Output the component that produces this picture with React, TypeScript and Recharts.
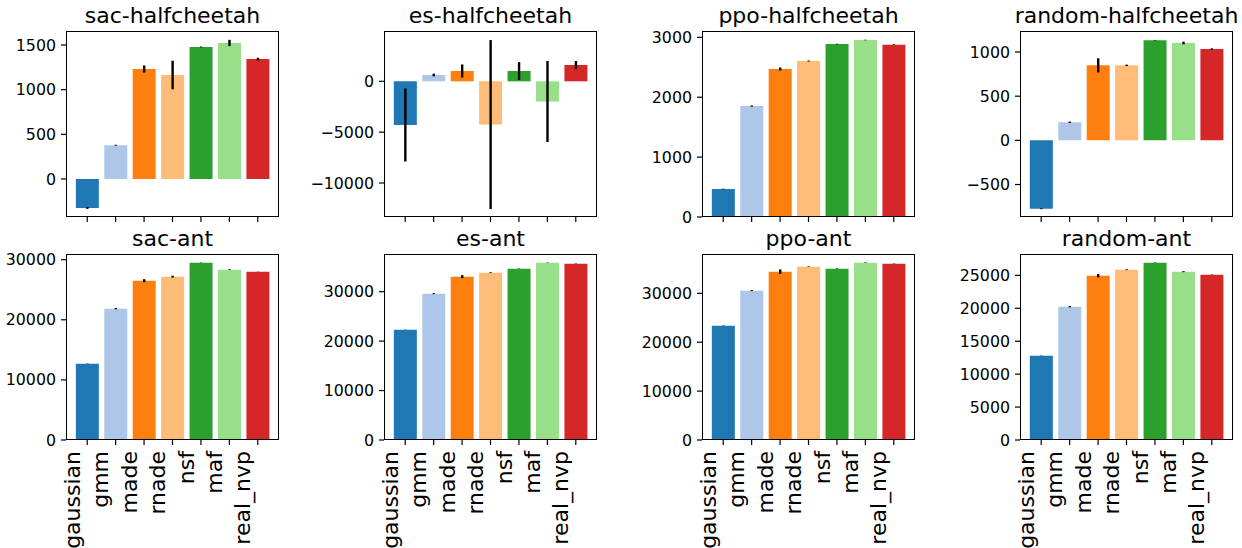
import React from 'react';
import { BarChart, Bar, XAxis, YAxis, Cell, ErrorBar } from 'recharts';

const CATEGORIES = ['gaussian', 'gmm', 'made', 'rnade', 'nsf', 'maf', 'real_nvp'];
const COLORS = ['#1f77b4', '#aec7e8', '#ff7f0e', '#ffbb78', '#2ca02c', '#98df8a', '#d62728'];

const TITLES = [
  'sac-halfcheetah', 'es-halfcheetah', 'ppo-halfcheetah', 'random-halfcheetah',
  'sac-ant', 'es-ant', 'ppo-ant', 'random-ant',
];

// mean returns per model
const sacHalfcheetah = [-325, 378, 1231, 1164, 1478, 1523, 1343];
const esHalfcheetah = [-4290, 623, 1016, -4250, 1016, -1990, 1607];
const ppoHalfcheetah = [468, 1853, 2471, 2605, 2889, 2956, 2878];
const randomHalfcheetah = [-774, 204, 849, 849, 1132, 1102, 1034];
const sacAnt = [12698, 21848, 26505, 27171, 29500, 28335, 28002];
const esAnt = [22316, 29597, 33036, 33845, 34654, 35867, 35665];
const ppoAnt = [23386, 30545, 34431, 35454, 35045, 36272, 36067];
const randomAnt = [12804, 20243, 24951, 25862, 26924, 25558, 25101];

// error bar half-lengths
const sacHalfcheetahErr = [10, 5, 40, 160, 5, 35, 15];
const esHalfcheetahErr = [3590, 130, 640, 8310, 870, 3985, 390];
const ppoHalfcheetahErr = [5, 10, 25, 8, 5, 5, 5];
const randomHalfcheetahErr = [5, 8, 80, 8, 3, 15, 8];
const sacAntErr = [30, 100, 250, 150, 30, 60, 20];
const esAntErr = [30, 100, 300, 80, 40, 40, 40];
const ppoAntErr = [40, 100, 450, 60, 50, 50, 40];
const randomAntErr = [30, 100, 250, 60, 30, 70, 30];

// axis limits and tick values
const DOMAINS: [number, number][] = [
  [-426, 1657], [-13346, 4951], [0, 3106], [-868, 1238],
  [0, 30943], [0, 37618], [0, 38045], [0, 28240],
];
const TICKS = [
  [0, 500, 1000, 1500],
  [-10000, -5000, 0],
  [0, 1000, 2000, 3000],
  [-500, 0, 500, 1000],
  [0, 10000, 20000, 30000],
  [0, 10000, 20000, 30000],
  [0, 10000, 20000, 30000],
  [0, 5000, 10000, 15000, 20000, 25000],
];

const VALUES = [sacHalfcheetah, esHalfcheetah, ppoHalfcheetah, randomHalfcheetah, sacAnt, esAnt, ppoAnt, randomAnt];
const ERRS = [sacHalfcheetahErr, esHalfcheetahErr, ppoHalfcheetahErr, randomHalfcheetahErr, sacAntErr, esAntErr, ppoAntErr, randomAntErr];

const FONT = 'DejaVu Sans';
const AX_LEFT = [66, 384, 702, 1020];
const AX_TOP = [31, 254];
const AX_W = 213;
const AX_H = 186;
const Y_W = 80;

const fmt = (v: number) => (v < 0 ? '\u2212' + Math.abs(v) : String(v));

function RotTick({ x, y, payload }: { x?: number; y?: number; payload?: { value: string } }) {
  return (
    <text
      transform={`translate(${(x ?? 0) - 7.4},${y ?? 0}) rotate(-90)`}
      textAnchor="end"
      fontSize={22}
      fill="#000"
      fontFamily={FONT}
    >
      {payload?.value}
    </text>
  );
}

function Panel({ idx }: { idx: number }) {
  const row = Math.floor(idx / 4);
  const col = idx % 4;
  const left = AX_LEFT[col];
  const top = AX_TOP[row];
  const xh = row === 0 ? 12 : 110;
  const data = CATEGORIES.map((name, i) => ({ name, value: VALUES[idx][i], err: ERRS[idx][i] }));

  return (
    <>
      <div style={{
        position: 'absolute', left: left + AX_W / 2 - 115, top: top - 26.5, width: 230,
        textAlign: 'center', fontSize: 22, lineHeight: '22px', fontFamily: FONT, color: '#000',
        whiteSpace: 'nowrap',
      }}>
        {TITLES[idx]}
      </div>
      <div style={{ position: 'absolute', left: left - Y_W, top: top - 5 }}>
        <BarChart
          width={Y_W + AX_W + 5}
          height={5 + AX_H + xh}
          data={data}
          margin={{ top: 5, right: 5, bottom: 0, left: 0 }}
          barCategoryGap="10%"
        >
          <XAxis
            dataKey="name"
            interval={0}
            axisLine={false}
            tickLine={{ stroke: '#000', strokeWidth: 1.2 }}
            tickSize={5}
            tickMargin={6}
            height={xh}
            padding={{ left: 7, right: 7 }}
            tick={row === 0 ? () => <g /> : <RotTick />}
          />
          <YAxis
            type="number"
            domain={DOMAINS[idx]}
            ticks={TICKS[idx]}
            allowDataOverflow
            interval={0}
            width={Y_W}
            axisLine={false}
            tickLine={{ stroke: '#000', strokeWidth: 1.2 }}
            tickSize={5}
            tickMargin={5}
            tickFormatter={fmt}
            tick={{ fontSize: 15.8, fill: '#000', fontFamily: FONT }}
          />
          <Bar dataKey="value" isAnimationActive={false}>
            {data.map((_, i) => (
              <Cell key={i} fill={COLORS[i]} />
            ))}
            <ErrorBar dataKey="err" width={0} stroke="#000" strokeWidth={2.4} isAnimationActive={false} />
          </Bar>
        </BarChart>
      </div>
      <div style={{
        position: 'absolute', left, top, width: AX_W, height: AX_H,
        border: '1px solid #000', boxSizing: 'border-box', pointerEvents: 'none',
      }} />
    </>
  );
}

export default function App() {
  return (
    <div style={{
      position: 'absolute', left: 0, top: 0, width: 1242, height: 548,
      overflow: 'hidden', background: '#fff', fontFamily: FONT,
    }}>
      {TITLES.map((_, i) => <Panel key={i} idx={i} />)}
    </div>
  );
}
